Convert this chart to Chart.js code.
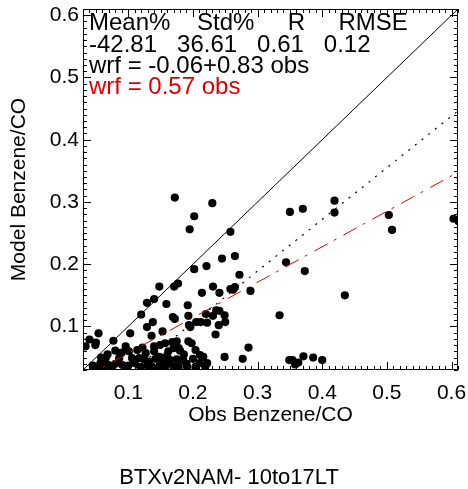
<!DOCTYPE html>
<html>
<head>
<meta charset="utf-8">
<script src="https://cdn.jsdelivr.net/npm/chart.js@4.4.1/dist/chart.umd.min.js"></script>
<style>
  html, body { margin: 0; padding: 0; background: #fff; }
  canvas { display: block; }
</style>
</head>
<body>
<canvas id="scatter" width="468" height="489"></canvas>
<script>
const obs = [
  0.350, 0.370, 0.419, 0.419, 0.503, 0.508, 0.603, 0.611, 0.344, 0.373,
  0.435, 0.334, 0.349, 0.354, 0.358, 0.363, 0.371, 0.386, 0.400, 0.172,
  0.230, 0.202, 0.195, 0.258, 0.245, 0.265, 0.221, 0.202, 0.272, 0.148,
  0.171, 0.177, 0.214, 0.231, 0.241, 0.258, 0.265, 0.262, 0.289, 0.140,
  0.129, 0.159, 0.192, 0.120, 0.169, 0.172, 0.193, 0.194, 0.205, 0.212,
  0.220, 0.222, 0.231, 0.236, 0.241, 0.249, 0.250, 0.235, 0.129, 0.138,
  0.136, 0.249, 0.277, 0.286, 0.103, 0.034, 0.040, 0.050, 0.054, 0.049,
  0.077, 0.096, 0.080, 0.065, 0.057, 0.052, 0.070, 0.086, 0.091, 0.106,
  0.101, 0.114, 0.117, 0.127, 0.132, 0.140, 0.148, 0.119, 0.137, 0.148,
  0.153, 0.061, 0.075, 0.096, 0.149, 0.157, 0.162, 0.170, 0.175, 0.178,
  0.180, 0.154, 0.165, 0.149, 0.157, 0.185, 0.193, 0.198, 0.204, 0.211,
  0.216, 0.222, 0.219, 0.204, 0.191, 0.178, 0.170, 0.196, 0.240, 0.060,
  0.068, 0.088, 0.110, 0.125, 0.160, 0.186, 0.200, 0.142, 0.045, 0.080,
  0.100, 0.130, 0.160, 0.175, 0.190, 0.210, 0.090, 0.122, 0.058, 0.140,
  0.168
];
const model = [
  0.284, 0.289, 0.302, 0.283, 0.279, 0.255, 0.273, 0.269, 0.203, 0.189,
  0.150, 0.118, 0.046, 0.046, 0.039, 0.042, 0.052, 0.050, 0.046, 0.307,
  0.298, 0.277, 0.256, 0.252, 0.209, 0.213, 0.197, 0.192, 0.183, 0.164,
  0.164, 0.169, 0.154, 0.164, 0.154, 0.160, 0.163, 0.159, 0.157, 0.144,
  0.138, 0.136, 0.134, 0.119, 0.115, 0.112, 0.117, 0.102, 0.107, 0.107,
  0.120, 0.106, 0.117, 0.126, 0.125, 0.118, 0.107, 0.087, 0.099, 0.107,
  0.085, 0.051, 0.048, 0.066, 0.089, 0.068, 0.079, 0.074, 0.089, 0.070,
  0.077, 0.068, 0.061, 0.049, 0.041, 0.035, 0.038, 0.049, 0.038, 0.049,
  0.060, 0.062, 0.049, 0.057, 0.043, 0.060, 0.051, 0.035, 0.035, 0.035,
  0.092, 0.033, 0.033, 0.033, 0.070, 0.073, 0.060, 0.065, 0.076, 0.065,
  0.061, 0.049, 0.046, 0.038, 0.035, 0.046, 0.076, 0.073, 0.062, 0.054,
  0.051, 0.041, 0.035, 0.035, 0.035, 0.035, 0.035, 0.099, 0.102, 0.044,
  0.055, 0.056, 0.041, 0.047, 0.053, 0.055, 0.048, 0.048, 0.037, 0.040,
  0.037, 0.037, 0.040, 0.047, 0.040, 0.041, 0.058, 0.066, 0.050, 0.068,
  0.075
];

const axisRange = [0.03, 0.61];
const tickValues = [0.1, 0.2, 0.3, 0.4, 0.5, 0.6];

// regression lines
const fitIntercept = -0.06;
const fitSlope = 0.83;
const originSlope = 0.57;

const statsHeader = 'Mean%    Std%     R     RMSE';
const statsValues = '-42.81   36.61   0.61   0.12';
const fitLabel = 'wrf = -0.06+0.83 obs';
const originLabel = 'wrf = 0.57 obs';

const FONT = "'Liberation Sans', Arial, Helvetica, sans-serif";
const RED = 'rgb(222,0,0)';

const points = obs.map((v, i) => ({ x: v, y: model[i] }));
const lineOver = (f) => axisRange.map(v => ({ x: v, y: f(v) }));

const frameAndText = {
    id: 'frameAndText',
    afterDatasetsDraw(chart) {
        const { ctx, chartArea: a, scales: { x, y } } = chart;
        ctx.save();
        ctx.strokeStyle = '#000';
        ctx.lineWidth = 1;
        ctx.beginPath();
        // inward ticks on all four sides, minor every 0.01
        for (let i = 3; i <= 61; i++) {
            const v = i / 100;
            const len = i % 10 === 0 ? 8 : 4;
            const px = Math.round(x.getPixelForValue(v)) + 0.5;
            ctx.moveTo(px, a.bottom); ctx.lineTo(px, a.bottom - len);
            ctx.moveTo(px, a.top); ctx.lineTo(px, a.top + len);
            const py = Math.round(y.getPixelForValue(v)) + 0.5;
            ctx.moveTo(a.left, py); ctx.lineTo(a.left + len, py);
            ctx.moveTo(a.right, py); ctx.lineTo(a.right - len, py);
        }
        ctx.stroke();
        ctx.strokeRect(a.left + 0.5, a.top + 0.5, a.right - a.left - 1, a.bottom - a.top - 1);

        ctx.font = '24px ' + FONT;
        ctx.textBaseline = 'alphabetic';
        ctx.textAlign = 'left';
        ctx.fillStyle = '#000';
        const tx = a.left + 6;
        ctx.fillText(statsHeader, tx, a.top + 21);
        ctx.fillText(statsValues, tx, a.top + 43);
        ctx.fillText(fitLabel, tx, a.top + 64);
        ctx.fillStyle = RED;
        ctx.fillText(originLabel, tx, a.top + 85);
        ctx.restore();
    }
};

const tickFont = { family: FONT, size: 21 };

new Chart(document.getElementById('scatter'), {
    type: 'scatter',
    data: {
        datasets: [
            {
                data: lineOver(v => v),
                showLine: true, pointRadius: 0,
                borderColor: '#000', borderWidth: 1
            },
            {
                data: lineOver(v => fitIntercept + fitSlope * v),
                showLine: true, pointRadius: 0,
                borderColor: '#000', borderWidth: 1.2, borderDash: [2, 6.5]
            },
            {
                data: lineOver(v => originSlope * v),
                showLine: true, pointRadius: 0,
                borderColor: RED, borderWidth: 1, borderDash: [15, 7, 3, 8]
            },
            {
                data: points,
                pointRadius: 4.1, pointHoverRadius: 4.1,
                backgroundColor: '#000', borderWidth: 0,
                clip: 0
            }
        ]
    },
    options: {
        responsive: false,
        animation: false,
        events: [],
        layout: { padding: { left: 0, right: 10, top: 9, bottom: 0 } },
        plugins: {
            legend: { display: false },
            tooltip: { enabled: false },
            title: {
                display: true,
                position: 'bottom',
                text: 'BTXv2NAM- 10to17LT',
                color: '#000',
                font: { family: FONT, size: 22, weight: 'normal', lineHeight: 1 },
                padding: { top: 39, bottom: 0 }
            }
        },
        scales: {
            x: {
                type: 'linear',
                min: axisRange[0], max: axisRange[1],
                afterFit(s) { s.height = 58; s.paddingLeft = 0; s.paddingRight = 0; },
                afterBuildTicks(s) { s.ticks = tickValues.map(v => ({ value: v })); },
                grid: { display: false, drawTicks: false },
                border: { display: false },
                ticks: {
                    color: '#000', font: tickFont, padding: 11, maxRotation: 0,
                    callback: v => v.toFixed(1)
                },
                title: {
                    display: true, text: 'Obs Benzene/CO', color: '#000',
                    font: tickFont, padding: { top: 0, bottom: 0 }
                }
            },
            y: {
                type: 'linear',
                min: axisRange[0], max: axisRange[1],
                afterFit(s) { s.width = 83; s.paddingTop = 0; s.paddingBottom = 0; },
                afterBuildTicks(s) { s.ticks = tickValues.map(v => ({ value: v })); },
                grid: { display: false, drawTicks: false },
                border: { display: false },
                ticks: {
                    color: '#000', font: tickFont, padding: 4,
                    callback: v => v.toFixed(1)
                },
                title: {
                    display: true, text: 'Model Benzene/CO', color: '#000',
                    font: tickFont, padding: { top: 7, bottom: 0 }
                }
            }
        }
    },
    plugins: [frameAndText]
});
</script>
</body>
</html>
